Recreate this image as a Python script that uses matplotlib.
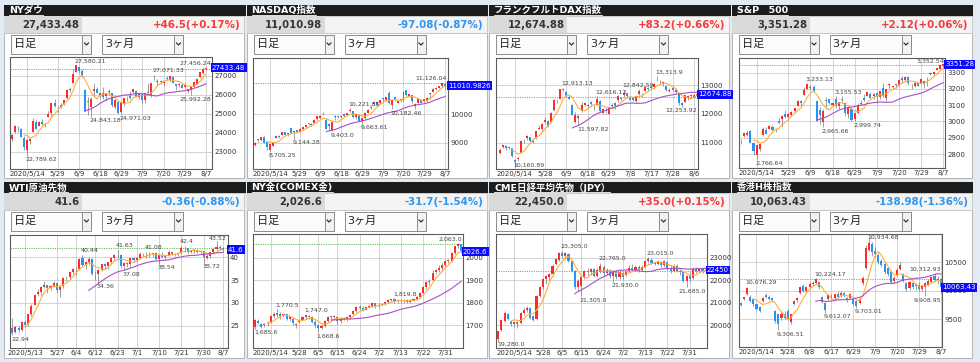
#!/usr/bin/env python
# -*- coding: utf-8 -*-
"""Market overview: eight daily candle charts (3 months) with 5/25 day averages."""

import numpy as np
import pandas as pd
import matplotlib
matplotlib.use('Agg')
import matplotlib.pyplot as plt
from matplotlib.patches import Rectangle
from matplotlib.transforms import blended_transform_factory

plt.rcParams['font.family'] = ['DejaVu Sans', 'Noto Sans CJK JP']

W, H = 980, 362

# ---------------------------------------------------------------- data
TITLES = ['NYダウ', 'NASDAQ指数', 'フランクフルトDAX指数', 'S&P\u3000500',
          'WTI原油先物', 'NY金(COMEX金)', 'CME日経平均先物（JPY）', '香港H株指数']
PRICE = [27433.48, 11010.98, 12674.88, 3351.28, 41.6, 2026.6, 22450.0, 10063.43]
PRICE_DEC = [2, 2, 2, 2, 1, 1, 1, 2]
CHANGE = [46.5, -97.08, 83.2, 2.12, -0.36, -31.7, 35.0, -138.98]
CHANGE_DEC = [1, 2, 1, 2, 2, 1, 1, 2]
CHANGE_PCT = [0.17, -0.87, 0.66, 0.06, -0.88, -1.54, 0.15, -1.36]
PRICE_TAGS = ['27433.48', '11010.9826', '12674.88', '3351.28', '41.6', '2026.6', '22450', '10063.43']
PERIOD = ('2020-05-07', '2020-08-07')

US_HOLIDAYS = ['2020-05-25', '2020-07-03']
DAX_HOLIDAYS = ['2020-06-01']
WTI_HOLIDAYS = []
CME_HOLIDAYS = ['2020-05-25']
HK_HOLIDAYS = ['2020-06-25', '2020-07-01']

US_TICKS = ['2020-05-14', '2020-05-29', '2020-06-09', '2020-06-18', '2020-06-29',
            '2020-07-09', '2020-07-20', '2020-07-29', '2020-08-07']
DAX_TICKS = ['2020-05-14', '2020-05-28', '2020-06-09', '2020-06-18', '2020-06-29',
             '2020-07-08', '2020-07-17', '2020-07-28', '2020-08-06']
WTI_TICKS = ['2020-05-13', '2020-05-27', '2020-06-04', '2020-06-12', '2020-06-23',
             '2020-07-01', '2020-07-10', '2020-07-21', '2020-07-30', '2020-08-07']
CME_TICKS = ['2020-05-14', '2020-05-28', '2020-06-05', '2020-06-15', '2020-06-24',
             '2020-07-02', '2020-07-13', '2020-07-22', '2020-07-31']
HK_TICKS = ['2020-05-14', '2020-05-28', '2020-06-08', '2020-06-17', '2020-06-29',
            '2020-07-09', '2020-07-20', '2020-07-29', '2020-08-07']

# (open, high, low, close) per trading day
DOW_OHLC = [
    (23665, 23950, 23580, 23876), (24033, 24380, 23990, 24331), (24221, 24350, 24050, 24222), (24180, 24240, 23760, 23765), (23740, 23800, 23110, 23248),
    (23110, 23690, 22790, 23625), (23555, 23740, 23400, 23685), (24051, 24770, 24040, 24597), (24590, 24660, 24180, 24207), (24369, 24630, 24360, 24576),
    (24553, 24720, 24400, 24474), (24381, 24490, 24290, 24465), (24844, 25170, 24840, 24995), (25016, 25550, 24900, 25548), (25550, 25760, 25340, 25401),
    (25347, 25410, 25060, 25383), (25343, 25550, 25290, 25475), (25534, 25750, 25480, 25743), (25816, 26300, 25800, 26270), (26265, 26420, 26150, 26282),
    (26616, 27340, 26600, 27111), (27232, 27580, 27230, 27572), (27448, 27450, 27180, 27272), (27251, 27350, 26950, 26990), (26282, 26300, 25120, 25128),
    (25659, 25880, 24950, 25606), (25372, 25880, 24843, 25763), (26196, 26610, 25860, 26290), (26290, 26400, 26090, 26120), (26007, 26120, 25810, 26080),
    (26117, 26400, 25800, 25871), (25919, 26070, 25700, 26025), (26147, 26290, 26000, 26156), (26106, 26110, 25350, 25446), (25367, 25770, 25230, 25746),
    (25620, 25640, 24990, 25016), (25113, 25620, 24971, 25596), (25505, 25850, 25420, 25813), (25704, 25950, 25660, 25735), (25955, 26200, 25760, 25827),
    (26155, 26300, 26110, 26287), (26223, 26230, 25880, 25890), (25912, 26080, 25800, 26067), (26018, 26030, 25530, 25706), (25703, 26080, 25560, 26075),
    (26158, 26630, 26050, 26086), (25983, 26650, 25900, 26643), (26896, 27071, 26760, 26870), (26693, 26830, 26500, 26735), (26750, 26800, 26560, 26672),
    (26609, 26710, 26480, 26681), (26858, 27000, 26780, 26840), (26789, 27010, 26700, 27006), (26936, 26990, 26600, 26652), (26565, 26590, 26250, 26470),
    (26534, 26620, 26410, 26585), (26532, 26600, 26370, 26379), (26414, 26640, 26380, 26540), (26201, 26330, 26100, 26314), (26258, 26430, 25992, 26428),
    (26400, 26680, 26400, 26664), (26597, 26830, 26580, 26828), (26945, 27210, 26900, 27202), (27166, 27400, 27100, 27387), (27360, 27456, 27300, 27433),
]
NASDAQ_OHLC = [
    (8920, 9010, 8900, 8980), (9080, 9125, 9040, 9121), (9080, 9215, 9070, 9192), (9200, 9230, 9000, 9003), (9020, 9040, 8750, 8863),
    (8750, 8950, 8705, 8944), (8880, 9020, 8870, 9015), (9160, 9260, 9150, 9235), (9240, 9280, 9180, 9185), (9260, 9380, 9255, 9376),
    (9370, 9390, 9260, 9285), (9290, 9330, 9230, 9325), (9500, 9505, 9330, 9340), (9370, 9415, 9144, 9412), (9430, 9450, 9330, 9369),
    (9380, 9500, 9330, 9490), (9470, 9560, 9460, 9552), (9570, 9610, 9520, 9608), (9660, 9690, 9620, 9683), (9660, 9680, 9580, 9616),
    (9700, 9850, 9700, 9814), (9830, 9930, 9800, 9925), (9880, 9980, 9860, 9954), (10000, 10090, 9980, 10020), (9800, 9830, 9490, 9493),
    (9650, 9710, 9450, 9589), (9430, 9760, 9403, 9726), (9950, 9970, 9800, 9896), (9920, 9950, 9870, 9911), (9890, 9950, 9860, 9943),
    (10000, 10050, 9920, 9946), (9960, 10060, 9940, 10056), (10130, 10222, 10080, 10131), (10100, 10110, 9870, 9909), (9890, 10020, 9850, 10017),
    (9990, 10000, 9750, 9757), (9780, 9880, 9664, 9874), (9860, 10070, 9850, 10059), (10050, 10170, 10050, 10155), (10240, 10310, 10180, 10208),
    (10350, 10440, 10300, 10434), (10420, 10460, 10330, 10344), (10390, 10500, 10360, 10493), (10560, 10570, 10440, 10548), (10500, 10620, 10480, 10617),
    (10750, 10824, 10370, 10391), (10340, 10490, 10182, 10489), (10600, 10650, 10460, 10550), (10400, 10500, 10380, 10474), (10530, 10530, 10420, 10503),
    (10500, 10770, 10480, 10767), (10860, 10870, 10640, 10680), (10650, 10730, 10610, 10706), (10680, 10690, 10400, 10461), (10300, 10400, 10200, 10363),
    (10400, 10540, 10390, 10536), (10500, 10510, 10390, 10402), (10450, 10550, 10430, 10543), (10450, 10600, 10440, 10588), (10700, 10750, 10550, 10745),
    (10800, 10910, 10790, 10903), (10880, 10950, 10850, 10941), (10940, 11000, 10920, 10998), (10990, 11110, 10950, 11108), (11080, 11126, 10900, 11011),
]
DAX_OHLC = [
    (10630, 10800, 10620, 10760), (10850, 10920, 10820, 10905), (10890, 10920, 10750, 10825), (10830, 10880, 10770, 10820), (10800, 10830, 10500, 10542),
    (10400, 10420, 10161, 10337), (10420, 10500, 10350, 10465), (10650, 11080, 10640, 11058), (11080, 11120, 10980, 11075), (11150, 11250, 11100, 11223),
    (11200, 11210, 11030, 11066), (11010, 11100, 10970, 11074), (11150, 11400, 11130, 11392), (11470, 11610, 11460, 11505), (11470, 11680, 11390, 11657),
    (11700, 11880, 11680, 11781), (11750, 11780, 11550, 11587), (11720, 12050, 11700, 12021), (12150, 12500, 12100, 12487), (12450, 12500, 12380, 12431),
    (12520, 12860, 12500, 12848), (12860, 12913, 12780, 12820), (12770, 12790, 12580, 12617), (12600, 12670, 12500, 12530), (12300, 12330, 11960, 11970),
    (11700, 12050, 11680, 11949), (11850, 11960, 11598, 11912), (12100, 12400, 12070, 12315), (12300, 12420, 12270, 12382), (12280, 12350, 12200, 12281),
    (12400, 12460, 12300, 12331), (12260, 12300, 12150, 12262), (12300, 12616, 12290, 12523), (12450, 12470, 12070, 12094), (12040, 12200, 11980, 12178),
    (12140, 12210, 12030, 12089), (12000, 12250, 11980, 12232), (12280, 12380, 12200, 12311), (12390, 12420, 12180, 12260), (12480, 12640, 12420, 12608),
    (12550, 12590, 12480, 12528), (12650, 12843, 12600, 12734), (12720, 12740, 12560, 12617), (12560, 12620, 12470, 12495), (12550, 12600, 12430, 12489),
    (12430, 12640, 12400, 12634), (12690, 12880, 12640, 12800), (12680, 12720, 12570, 12697), (12800, 12950, 12780, 12931), (12880, 12920, 12790, 12874),
    (12900, 12980, 12850, 12920), (12940, 13060, 12860, 13046), (13160, 13314, 13140, 13171), (13110, 13160, 13020, 13104), (13080, 13140, 12980, 13103),
    (12950, 12980, 12800, 12838), (12800, 12890, 12750, 12839), (12900, 12920, 12780, 12835), (12770, 12850, 12720, 12822), (12700, 12710, 12320, 12379),
    (12380, 12420, 12254, 12313), (12420, 12660, 12400, 12647), (12600, 12660, 12480, 12600), (12610, 12700, 12580, 12660), (12650, 12700, 12560, 12591),
    (12610, 12700, 12590, 12675),
]
SP500_OHLC = [
    (2879, 2892, 2860, 2881), (2908, 2932, 2902, 2930), (2916, 2945, 2910, 2930), (2939, 2945, 2869, 2870), (2865, 2874, 2793, 2820),
    (2794, 2853, 2767, 2853), (2830, 2865, 2820, 2864), (2914, 2968, 2913, 2954), (2948, 2964, 2922, 2923), (2953, 2980, 2953, 2972),
    (2969, 2979, 2939, 2949), (2948, 2956, 2933, 2955), (3004, 3021, 2988, 2992), (3016, 3037, 2969, 3036), (3046, 3068, 3023, 3030),
    (3026, 3050, 3007, 3044), (3038, 3063, 3032, 3056), (3064, 3082, 3052, 3081), (3098, 3131, 3098, 3123), (3123, 3129, 3091, 3112),
    (3163, 3211, 3163, 3194), (3199, 3233, 3197, 3232), (3213, 3223, 3193, 3207), (3213, 3223, 3182, 3190), (3123, 3123, 3001, 3002),
    (3071, 3088, 2984, 3041), (2994, 3079, 2966, 3067), (3131, 3153, 3077, 3125), (3136, 3141, 3109, 3113), (3102, 3121, 3093, 3115),
    (3140, 3156, 3084, 3098), (3095, 3120, 3079, 3118), (3138, 3154, 3122, 3131), (3114, 3115, 3033, 3050), (3046, 3087, 3024, 3084),
    (3074, 3074, 3004, 3009), (3018, 3054, 3000, 3053), (3050, 3111, 3048, 3100), (3105, 3129, 3101, 3116), (3144, 3166, 3124, 3130),
    (3155, 3183, 3155, 3180), (3167, 3184, 3142, 3145), (3154, 3172, 3137, 3170), (3177, 3179, 3115, 3152), (3153, 3186, 3137, 3185),
    (3206, 3236, 3153, 3155), (3142, 3199, 3128, 3198), (3226, 3238, 3200, 3227), (3209, 3221, 3197, 3216), (3232, 3233, 3205, 3225),
    (3225, 3258, 3216, 3252), (3268, 3278, 3237, 3257), (3254, 3279, 3250, 3276), (3271, 3280, 3222, 3236), (3219, 3228, 3197, 3216),
    (3219, 3242, 3214, 3239), (3234, 3244, 3218, 3218), (3228, 3264, 3228, 3258), (3231, 3250, 3205, 3246), (3271, 3272, 3220, 3271),
    (3289, 3302, 3284, 3295), (3289, 3307, 3287, 3307), (3317, 3331, 3318, 3328), (3323, 3351, 3319, 3349), (3340, 3353, 3328, 3351),
]
WTI_OHLC = [
    (24.5, 26.7, 22.94, 23.55), (23.7, 25.0, 23.5, 24.74), (24.6, 25.0, 23.6, 24.14), (24.2, 26.0, 24.0, 25.78), (25.8, 26.4, 24.7, 25.29),
    (25.4, 27.7, 24.9, 27.56), (27.7, 29.7, 27.2, 29.43), (29.6, 32.0, 29.5, 31.82), (31.9, 33.0, 31.5, 32.50), (32.5, 33.6, 31.8, 33.49),
    (33.5, 34.7, 33.3, 33.92), (33.9, 34.0, 32.2, 33.25), (33.2, 33.9, 32.9, 33.60), (33.7, 34.8, 33.5, 34.35), (34.3, 34.4, 32.2, 32.81),
    (32.8, 33.9, 31.2, 33.71), (33.6, 35.6, 33.2, 35.49), (35.4, 35.9, 34.8, 35.44), (35.6, 37.0, 35.3, 36.81), (36.8, 37.7, 36.3, 37.29),
    (37.3, 37.8, 36.0, 37.41), (37.5, 39.7, 37.2, 39.55), (39.9, 40.44, 38.0, 38.19), (38.2, 39.1, 37.5, 38.94), (38.9, 40.0, 38.3, 39.60),
    (39.6, 39.7, 36.1, 36.34), (36.4, 37.0, 35.0, 36.26), (36.3, 37.4, 34.36, 37.12), (37.1, 38.5, 36.9, 38.38), (38.4, 38.6, 37.3, 37.96),
    (38.0, 39.0, 37.4, 38.84), (38.9, 40.0, 38.5, 39.75), (39.7, 40.6, 39.1, 40.46), (40.5, 41.63, 39.7, 40.37), (40.4, 40.6, 37.7, 38.01),
    (38.0, 38.9, 37.08, 38.72), (38.7, 39.0, 37.8, 38.49), (38.5, 39.8, 37.9, 39.70), (39.7, 40.1, 38.9, 39.27), (39.3, 40.0, 38.9, 39.82),
    (39.8, 41.0, 39.6, 40.65), (40.6, 40.9, 40.2, 40.60), (40.6, 41.08, 39.8, 40.63), (40.6, 41.0, 40.1, 40.62), (40.6, 40.95, 40.0, 40.90),
    (40.9, 41.0, 39.4, 39.62), (39.6, 40.7, 38.54, 40.55), (40.5, 41.0, 39.8, 40.10), (40.1, 40.5, 39.4, 40.29), (40.3, 41.5, 40.2, 41.20),
    (41.2, 41.3, 40.4, 40.75), (40.7, 40.9, 40.3, 40.59), (40.6, 41.0, 40.2, 40.81), (40.8, 42.4, 40.7, 41.96), (42.0, 42.3, 41.0, 41.90),
    (41.9, 42.0, 40.6, 41.07), (41.0, 41.5, 40.8, 41.29), (41.3, 41.8, 40.9, 41.60), (41.6, 41.7, 40.8, 41.04), (41.0, 41.5, 40.9, 41.27),
    (41.3, 41.3, 38.72, 39.92), (39.9, 40.6, 39.5, 40.27), (40.3, 41.2, 39.9, 41.01), (41.0, 41.8, 40.6, 41.70), (41.8, 43.52, 41.6, 42.19),
    (42.2, 42.6, 41.6, 41.95), (41.9, 42.2, 41.2, 41.60),
]
GOLD_OHLC = [
    (1692, 1730, 1686, 1726), (1720, 1728, 1705, 1710), (1708, 1712, 1690, 1695), (1700, 1712, 1694, 1705), (1705, 1718, 1698, 1712),
    (1715, 1745, 1710, 1740), (1740, 1760, 1732, 1752), (1755, 1771, 1735, 1747), (1750, 1758, 1730, 1742), (1745, 1756, 1735, 1750),
    (1750, 1752, 1722, 1728), (1728, 1740, 1720, 1735), (1730, 1734, 1700, 1712), (1700, 1712, 1690, 1706), (1715, 1730, 1710, 1725),
    (1725, 1740, 1718, 1735), (1735, 1747, 1728, 1745), (1743, 1746, 1730, 1738), (1738, 1740, 1712, 1715), (1716, 1722, 1690, 1700),
    (1702, 1708, 1669, 1690), (1690, 1705, 1684, 1698), (1698, 1722, 1694, 1718), (1718, 1742, 1714, 1738), (1738, 1746, 1725, 1737),
    (1737, 1745, 1728, 1740), (1735, 1740, 1708, 1718), (1720, 1735, 1712, 1730), (1730, 1736, 1722, 1728), (1728, 1740, 1720, 1735),
    (1735, 1752, 1730, 1748), (1750, 1768, 1746, 1764), (1765, 1786, 1760, 1782), (1780, 1790, 1768, 1775), (1775, 1785, 1765, 1770),
    (1770, 1786, 1766, 1782), (1782, 1792, 1775, 1786), (1786, 1802, 1780, 1799), (1797, 1800, 1775, 1784), (1784, 1798, 1778, 1792),
    (1792, 1800, 1786, 1794), (1794, 1808, 1788, 1803), (1803, 1815, 1798, 1811), (1811, 1818, 1806, 1816), (1816, 1819.8, 1800, 1806),
    (1806, 1816, 1800, 1812), (1812, 1816, 1798, 1806), (1806, 1815, 1800, 1810), (1812, 1815, 1798, 1804), (1804, 1816, 1800, 1812),
    (1812, 1822, 1806, 1817), (1817, 1830, 1812, 1826), (1826, 1846, 1822, 1843), (1843, 1874, 1838, 1870), (1870, 1898, 1862, 1890),
    (1890, 1905, 1880, 1897), (1900, 1945, 1895, 1931), (1935, 1950, 1925, 1944), (1944, 1965, 1935, 1953), (1953, 1975, 1940, 1965),
    (1965, 1990, 1958, 1985), (1985, 1995, 1975, 1986), (1986, 2025, 1980, 2021), (2021, 2052, 2016, 2049), (2049, 2063, 2042, 2058),
    (2058, 2060, 2020, 2027),
]
NIKKEI_OHLC = [
    (19420, 19760, 19280, 19740), (19800, 20300, 19750, 20250), (20200, 20620, 20150, 20560), (20500, 20560, 20220, 20270), (20200, 20250, 19980, 20050),
    (20050, 20200, 19950, 20150), (20150, 20180, 19900, 20050), (20100, 20600, 20050, 20550), (20550, 20750, 20450, 20700), (20700, 20850, 20600, 20780),
    (20780, 20800, 20300, 20350), (20400, 20480, 20200, 20250), (20300, 21350, 20250, 21300), (21300, 21750, 21250, 21680), (21680, 22100, 21600, 22040),
    (22050, 22250, 21850, 22180), (22120, 22300, 22000, 22260), (22260, 22700, 22200, 22640), (22700, 22980, 22650, 22930), (22900, 23250, 22850, 23220),
    (23200, 23305, 23000, 23050), (23050, 23250, 22950, 23200), (23150, 23200, 22800, 22850), (22850, 22900, 22350, 22420), (22400, 22450, 21600, 21680),
    (21700, 22050, 21500, 21950), (21750, 22200, 21305, 22150), (22150, 22450, 22050, 22400), (22400, 22550, 22250, 22350), (22350, 22550, 22250, 22480),
    (22480, 22520, 22150, 22200), (22200, 22520, 22150, 22450), (22350, 22765, 22300, 22620), (22600, 22650, 22200, 22300), (22300, 22550, 22250, 22450),
    (22450, 22500, 22100, 22200), (22200, 22450, 21930, 22400), (22400, 22450, 22050, 22150), (22150, 22450, 22050, 22380), (22300, 22380, 22000, 22120),
    (22250, 22450, 22200, 22380), (22400, 22650, 22350, 22560), (22560, 22700, 22400, 22450), (22450, 22650, 22400, 22600), (22600, 22680, 22380, 22450),
    (22450, 22650, 22400, 22580), (22600, 22900, 22550, 22850), (22850, 23015, 22750, 22920), (22900, 22980, 22700, 22780), (22780, 22850, 22650, 22720),
    (22720, 22900, 22650, 22820), (22800, 22850, 22600, 22660), (22660, 22900, 22600, 22830), (22820, 22850, 22450, 22520), (22520, 22650, 22300, 22420),
    (22420, 22700, 22350, 22640), (22640, 22700, 22350, 22420), (22420, 22500, 22250, 22350), (22350, 22400, 21900, 21970), (21970, 22250, 21685, 22200),
    (22200, 22350, 21900, 22050), (22100, 22600, 22050, 22500), (22500, 22600, 22300, 22420), (22420, 22550, 22350, 22480), (22480, 22560, 22300, 22415),
    (22415, 22500, 22300, 22450),
]
HSCEI_OHLC = [
    (9790, 9810, 9740, 9750), (9860, 9900, 9840, 9890), (9940, 10076, 9920, 10050), (9890, 9920, 9800, 9820), (9850, 9870, 9740, 9760),
    (9770, 9790, 9660, 9680), (9720, 9740, 9630, 9650), (9820, 9900, 9800, 9880), (9930, 9960, 9880, 9900), (9900, 9920, 9840, 9860),
    (9870, 9890, 9800, 9830), (9650, 9660, 9440, 9470), (9590, 9600, 9307, 9410), (9530, 9620, 9480, 9600), (9600, 9650, 9500, 9530),
    (9650, 9680, 9480, 9500), (9450, 9600, 9420, 9590), (9770, 9830, 9750, 9820), (9830, 9900, 9810, 9880), (9970, 10080, 9950, 10060),
    (10090, 10120, 9980, 10000), (10000, 10080, 9970, 10060), (10060, 10150, 10030, 10120), (10120, 10170, 10080, 10140), (10140, 10224, 10120, 10200),
    (10150, 10160, 10040, 10060), (9900, 9910, 9780, 9800), (9780, 9800, 9612, 9660), (9860, 9950, 9840, 9930), (9900, 9940, 9850, 9880),
    (9870, 9960, 9850, 9940), (9940, 9990, 9870, 9900), (9920, 10000, 9900, 9970), (9960, 9980, 9900, 9920), (9880, 9900, 9800, 9830),
    (9880, 9960, 9860, 9940), (9860, 9880, 9740, 9770), (9820, 9840, 9703, 9740), (9790, 9880, 9760, 9860), (10130, 10260, 10110, 10220),
    (10400, 10800, 10380, 10760), (10720, 10935, 10700, 10850), (10830, 10860, 10620, 10680), (10700, 10780, 10600, 10650), (10640, 10660, 10480, 10510),
    (10520, 10560, 10420, 10460), (10470, 10490, 10300, 10330), (10400, 10410, 10260, 10290), (10340, 10360, 10120, 10150), (10170, 10260, 10130, 10230),
    (10280, 10400, 10260, 10370), (10380, 10500, 10360, 10460), (10290, 10310, 10150, 10180), (10130, 10150, 10000, 10030), (10050, 10180, 10020, 10150),
    (10130, 10160, 10030, 10070), (10080, 10140, 10010, 10110), (10100, 10150, 10000, 10040), (10040, 10110, 9990, 10080), (10060, 10160, 9909, 10130),
    (10110, 10200, 10080, 10170), (10150, 10260, 10130, 10240), (10260, 10313, 10160, 10190), (10190, 10260, 10120, 10202), (10200, 10230, 9970, 10063),
]

# (bar index, 'h' above the high / 'l' below the low, label)
DOW_NOTES = [(21, 'h', '27,580.21'), (5, 'l', '22,789.62'), (26, 'l', '24,843.18'), (36, 'l', '24,971.03'),
             (47, 'h', '27,071.33'), (59, 'l', '25,992.28'), (64, 'h', '27,456.24')]
NASDAQ_NOTES = [(5, 'l', '8,705.25'), (13, 'l', '9,144.28'), (26, 'l', '9,403.0'), (32, 'h', '10,221.85'),
                (36, 'l', '9,663.61'), (46, 'l', '10,182.46'), (64, 'h', '11,126.04')]
DAX_NOTES = [(5, 'l', '10,160.89'), (21, 'h', '12,913.13'), (26, 'l', '11,597.82'), (32, 'h', '12,616.12'),
             (41, 'h', '12,842.59'), (52, 'h', '13,313.9'), (60, 'l', '12,253.92')]
SP500_NOTES = [(5, 'l', '2,766.64'), (21, 'h', '3,233.13'), (26, 'l', '2,965.66'), (30, 'h', '3,155.53'),
               (36, 'l', '2,999.74'), (64, 'h', '3,352.54')]
WTI_NOTES = [(0, 'l', '22.94'), (22, 'h', '40.44'), (27, 'l', '34.36'), (33, 'h', '41.63'), (35, 'l', '37.08'),
             (42, 'h', '41.08'), (46, 'l', '38.54'), (53, 'h', '42.4'), (60, 'l', '38.72'), (64, 'h', '43.52')]
GOLD_NOTES = [(0, 'l', '1,685.6'), (7, 'h', '1,770.5'), (16, 'h', '1,747.0'), (20, 'l', '1,668.6'),
              (44, 'h', '1,819.8'), (64, 'h', '2,063.0')]
NIKKEI_NOTES = [(0, 'l', '19,280.0'), (20, 'h', '23,305.0'), (26, 'l', '21,305.0'), (32, 'h', '22,765.0'),
                (36, 'l', '21,930.0'), (47, 'h', '23,015.0'), (59, 'l', '21,685.0')]
HSCEI_NOTES = [(2, 'h', '10,076.29'), (12, 'l', '9,306.51'), (24, 'h', '10,224.17'), (27, 'l', '9,612.07'),
               (37, 'l', '9,703.01'), (41, 'h', '10,934.68'), (62, 'h', '10,312.93'), (59, 'l', '9,908.95')]

SERIES = [DOW_OHLC, NASDAQ_OHLC, DAX_OHLC, SP500_OHLC, WTI_OHLC, GOLD_OHLC, NIKKEI_OHLC, HSCEI_OHLC]
HOLIDAYS = [US_HOLIDAYS, US_HOLIDAYS, DAX_HOLIDAYS, US_HOLIDAYS, WTI_HOLIDAYS, CME_HOLIDAYS, CME_HOLIDAYS, HK_HOLIDAYS]
TICKS = [US_TICKS, US_TICKS, DAX_TICKS, US_TICKS, WTI_TICKS, CME_TICKS, CME_TICKS, HK_TICKS]
NOTES = [DOW_NOTES, NASDAQ_NOTES, DAX_NOTES, SP500_NOTES, WTI_NOTES, GOLD_NOTES, NIKKEI_NOTES, HSCEI_NOTES]

# ---------------------------------------------------------------- layout
# chart frame in pixels: left, top, right, bottom
FRAMES = [(10, 57, 212, 169), (253, 58, 448, 169), (496, 58, 698, 169), (739, 58, 945, 168),
          (10, 235, 228, 348), (253, 234, 463, 348), (496, 234, 707, 348), (739, 234, 942, 347)]
YLIMS = [(22080, 28000), (8075, 11980), (10084, 13940), (2714, 3390),
         (20.2, 44.8), (1600, 2104), (19004, 24040), (9010, 11002)]
YTICKS = [[23000, 24000, 25000, 26000, 27000], [9000, 10000], [11000, 12000, 13000],
          [2800, 2900, 3000, 3100, 3200, 3300], [25, 30, 35, 40], [1700, 1800, 1900, 2000],
          [20000, 21000, 22000, 23000], [9500, 10000, 10500]]
XPADS = [(0.7, 2.0), (0.7, 1.0), (1.2, 0.4), (0.6, 0.6), (0.7, 1.6), (0.6, 0.6), (0.7, 0.4), (0.6, 0.4)]

UP, DOWN = '#ff2b2b', '#2a93f2'
UP_TXT, DOWN_TXT = '#f43c3c', '#2e96ee'


def trading_days(holidays):
    days = pd.bdate_range(*PERIOD)
    return days[~days.isin(pd.to_datetime(holidays))]


def dropdown(ov, x, y, w, h, label):
    ov.add_patch(Rectangle((x, y), w, h, fc='#fbfbfb', ec='#8c8c8c', lw=0.7))
    ov.add_patch(Rectangle((x + w - 9, y), 9, h, fc='#f2f2f2', ec='#8c8c8c', lw=0.7))
    cx, cy = x + w - 4.5, y + h / 2
    ov.plot([cx - 2, cx, cx + 2], [cy - 1, cy + 1, cy - 1], color='#222', lw=0.8)
    ov.text(x + 3, cy, label, ha='left', va='center', fontsize=8, color='#222')


def draw_chart(ax, ohlc, days, ticks, ylim, yticks, xpad, prev, price, tag):
    df = pd.DataFrame(ohlc, columns=['open', 'high', 'low', 'close'], index=days)
    x = np.arange(len(df))
    up = (df['close'] >= df['open']).to_numpy()
    bottom = np.minimum(df['open'], df['close'])
    height = np.maximum((df['close'] - df['open']).abs(), (ylim[1] - ylim[0]) * 0.005)

    ax.vlines(x, df['low'], df['high'], color='#7a7a7a', lw=0.5, zorder=2)
    ax.bar(x, height, bottom=bottom, width=0.66, color=np.where(up, UP, DOWN), lw=0, zorder=3)
    ax.plot(x, df['close'].rolling(5).mean(), color='#ffad3b', lw=0.8, zorder=4)
    ax.plot(x, df['close'].rolling(25).mean(), color='#a651c4', lw=0.8, zorder=4)
    ax.axhline(prev, color='#5fbf5f', lw=0.7, ls=(0, (1.2, 1.2)), zorder=1.8)

    pos = [days.get_loc(pd.Timestamp(t)) for t in ticks]
    labels = []
    for i, t in enumerate(pd.to_datetime(ticks)):
        labels.append(f'{t.year}/{t.month}/{t.day}' if i == 0 else f'{t.month}/{t.day}')
    ax.set_xticks(pos)
    ax.set_xticklabels(labels)
    ax.set_yticks(yticks)
    ax.set_yticklabels([f'{v:g}' for v in yticks])
    ax.yaxis.tick_right()
    ax.set_xlim(-xpad[0], len(df) - 1 + xpad[1])
    ax.set_ylim(*ylim)
    ax.grid(True, color='#cccccc', lw=0.6)
    ax.set_axisbelow(True)
    ax.tick_params(length=0, pad=1.5, labelsize=5, colors='#333333')
    for sp in ax.spines.values():
        sp.set_color('#5c5c5c')
        sp.set_linewidth(0.8)

    trans = blended_transform_factory(ax.transAxes, ax.transData)
    ax.text(1.0, price, tag, transform=trans, ha='left', va='center', fontsize=5,
            color='white', zorder=10, clip_on=False,
            bbox=dict(boxstyle='square,pad=0.2', fc='#0a0aff', ec='none'))
    return df


fig = plt.figure(figsize=(9.8, 3.62), dpi=100, facecolor='#e2eaf3')
ov = fig.add_axes([0, 0, 1, 1])
ov.set_xlim(0, W)
ov.set_ylim(H, 0)
ov.axis('off')

title_texts = []
note_texts = []
for k in range(8):
    col, row = k % 4, k // 4
    x0 = 4 + 242.5 * col
    y0 = [5, 182][row]
    pw = 240
    body_h = [145, 148][row]

    # header, value row and body
    ov.add_patch(Rectangle((x0, y0 + 28), pw, body_h, fc='white', ec='#b4b4b4', lw=0.7))
    ov.add_patch(Rectangle((x0, y0), pw + 1.5, 11, fc='#1c1c1c', ec='none'))
    title_texts.append(ov.text(x0 + 5, y0 + 5.8, TITLES[k], ha='left', va='center',
                               fontsize=6.8, fontweight='bold', color='white'))
    ov.add_patch(Rectangle((x0, y0 + 11), pw, 17, fc='#f4f4f4', ec='#c4c4c4', lw=0.6))
    ov.add_patch(Rectangle((x0, y0 + 11), 78, 17, fc='#dadada', ec='none'))
    ov.text(x0 + 75.5, y0 + 19.8, f'{PRICE[k]:,.{PRICE_DEC[k]}f}', ha='right', va='center',
            fontsize=7.3, fontweight='bold', color='#333333')
    sign_color = UP_TXT if CHANGE[k] >= 0 else DOWN_TXT
    ov.text(x0 + 236.5, y0 + 19.8, f'{CHANGE[k]:+.{CHANGE_DEC[k]}f}({CHANGE_PCT[k]:+.2f}%)',
            ha='right', va='center', fontsize=7.4, fontweight='bold', color=sign_color)
    dropdown(ov, x0 + 7, y0 + 29.5, 80, 19, '日足')
    dropdown(ov, x0 + 98, y0 + 29.5, 81, 19, '3ヶ月')

    # chart
    l, t, r, b = FRAMES[k]
    ax = fig.add_axes([l / W, 1 - b / H, (r - l) / W, (b - t) / H])
    ax.set_zorder(1)
    days = trading_days(HOLIDAYS[k])
    df = draw_chart(ax, SERIES[k], days, TICKS[k], YLIMS[k], YTICKS[k], XPADS[k],
                    PRICE[k] - CHANGE[k], PRICE[k], PRICE_TAGS[k])
    for idx, kind, text in NOTES[k]:
        if kind == 'h':
            note = ax.annotate(text, (idx - 0.5, df['high'].iloc[idx]), xytext=(0, 1.2),
                               textcoords='offset points', ha='left', va='bottom',
                               fontsize=4.5, color='#444444', zorder=6)
        else:
            note = ax.annotate(text, (idx - 0.5, df['low'].iloc[idx]), xytext=(0, -1.0),
                               textcoords='offset points', ha='left', va='top',
                               fontsize=4.5, color='#444444', zorder=6)
        note_texts.append((ax, note))

# keep value labels inside their frames, underline titles
fig.canvas.draw()
renderer = fig.canvas.get_renderer()
pt = 72.0 / fig.dpi
for ax, note in note_texts:
    bb = note.get_window_extent(renderer)
    frame = ax.get_window_extent(renderer)
    dx = 0.0
    if bb.x1 > frame.x1 - 1:
        dx = frame.x1 - 1 - bb.x1
    elif bb.x0 < frame.x0 + 1:
        dx = frame.x0 + 1 - bb.x0
    dy = 0.0
    if bb.y0 < frame.y0 + 1:
        dy = frame.y0 + 1 - bb.y0
    elif bb.y1 > frame.y1 - 1:
        dy = frame.y1 - 1 - bb.y1
    ox, oy = note.xyann
    note.xyann = (ox + dx * pt, oy + dy * pt)

inv = ov.transData.inverted()
for t in title_texts:
    bb = t.get_window_extent(renderer)
    (xa, ya), (xb, _) = inv.transform([(bb.x0, bb.y0), (bb.x1, bb.y0)])
    ov.plot([xa, xb], [ya - 0.6, ya - 0.6], color='white', lw=0.6)

fig.savefig('out.png', dpi=100, facecolor=fig.get_facecolor())
